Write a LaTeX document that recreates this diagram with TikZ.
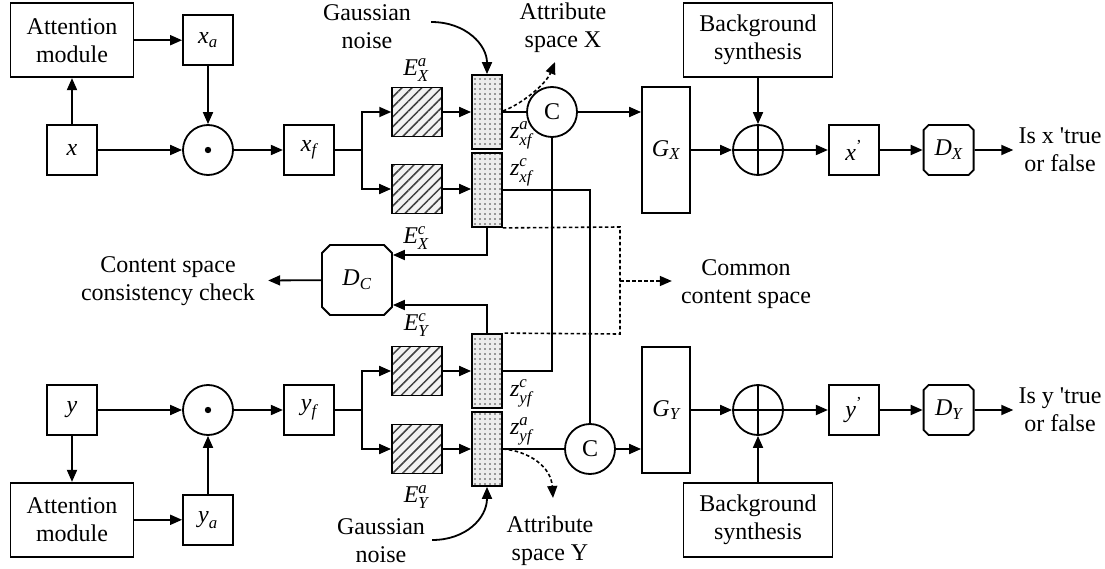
\documentclass[tikz,border=0pt]{standalone}
\usepackage{amsmath}
\usepackage{fontspec}
\setmainfont{Liberation Serif}
\usetikzlibrary{arrows.meta, positioning, calc, patterns.meta, shapes.misc}
\newcommand{\vi}[1]{\textit{#1}}
\tikzstyle{blk} = [draw, rectangle, minimum width=50pt, minimum height=50pt, inner sep=0pt, line width=1.8pt]
\tikzstyle{bigblk} = [draw, rectangle, minimum height=74pt, align=center, inner sep=0pt, line width=1.8pt]
\tikzstyle{genblk} = [draw, rectangle, minimum width=48pt, minimum height=126pt, inner sep=0pt, line width=1.8pt]
\tikzstyle{encblk} = [blk, minimum height=49pt, preaction={fill=gray!10}, pattern={Lines[angle=45,distance=7pt,line width=1.5pt]}, pattern color=black!75]
\tikzstyle{zbar} = [draw, rectangle, minimum width=30pt, minimum height=74pt, inner sep=0pt, line width=1.8pt, preaction={fill=gray!15}, pattern={Dots[distance=5pt,radius=0.8pt]}, pattern color=black!75]
\tikzstyle{opnode} = [draw, circle, minimum size=50pt, inner sep=0pt, line width=1.8pt]
\tikzstyle{odot} = [opnode, path picture={\fill (path picture bounding box.center) circle (3.2pt);}]
\tikzstyle{oplus} = [opnode, path picture={\draw[line width=1.8pt] (path picture bounding box.north) -- (path picture bounding box.south) (path picture bounding box.west) -- (path picture bounding box.east);}]
\tikzstyle{disc} = [draw, chamfered rectangle, chamfered rectangle xsep=2.5pt, chamfered rectangle ysep=2.5pt, minimum width=50pt, minimum height=50pt, inner sep=0pt, line width=1.8pt]
\tikzstyle{lbl} = [inner sep=0pt, align=center]
\tikzstyle{ln} = [line width=1.8pt]
\tikzstyle{arrw} = [line width=1.8pt, -{Triangle[length=12pt,width=10pt]}]
\tikzstyle{dotln} = [ln, line width=1.6pt, dash pattern=on 3.5pt off 2.5pt]
\tikzstyle{dotarrw} = [arrw, line width=1.6pt, dash pattern=on 3.5pt off 2.5pt]

\begin{document}
\begin{tikzpicture}[x=1pt, y=1pt, font=\fontsize{24}{28}\selectfont]
    \useasboundingbox (0,0) rectangle (1105,-569);

    % upper branch (x)
    \node (x) [blk] at (72,-150) {$\vi{x}$};
    \node (attx) [bigblk, minimum width=123pt, above=46pt of x] {Attention\\module};
    \node (xm) [odot] at (208,-150) {};
    \node (xa) [blk, above=58pt of xm] {$\vi{x}_{\vi{a}}$};
    \node (xf) [blk, right=49pt of xm] {$\vi{x}_{\vi{f}}$};
    \node (eXa) [encblk] at (417,-112) {};
    \node (eXc) [encblk] at (417,-189) {};
    \node (zXa) [zbar] at (487,-112) {};
    \node (zXc) [zbar] at (487,-190) {};
    \node (cX) [opnode] at (552,-112) {C};
    \node (gX) [genblk] at (666,-150) {$\vi{G}_{\vi{X}}$};
    \node (px) [oplus] at (758,-150) {};
    \node (bgx) [bigblk, minimum width=149pt, above=46pt of px] {Background\\synthesis};
    \node (xo) [blk, right=44pt of px] {$\vi{x}^{\text{'}}$};
    \node (dX) [disc, right=43pt of xo] {$\vi{D}_{\vi{X}}$};
    \node (outx) [lbl] at (1060,-150) {Is x \textquotesingle true\\or false};

    % lower branch (y)
    \node (y) [blk] at (72,-410) {$\vi{y}$};
    \node (atty) [bigblk, minimum width=123pt, below=46pt of y] {Attention\\module};
    \node (ym) [odot] at (208,-410) {};
    \node (ya) [blk, below=58pt of ym] {$\vi{y}_{\vi{a}}$};
    \node (yf) [blk, right=49pt of ym] {$\vi{y}_{\vi{f}}$};
    \node (eYc) [encblk] at (417,-371) {};
    \node (eYa) [encblk] at (417,-449) {};
    \node (zYc) [zbar] at (487,-371) {};
    \node (zYa) [zbar] at (487,-449) {};
    \node (cY) [opnode] at (590,-449) {C};
    \node (gY) [genblk] at (666,-410) {$\vi{G}_{\vi{Y}}$};
    \node (py) [oplus] at (758,-410) {};
    \node (bgy) [bigblk, minimum width=149pt, below=46pt of py] {Background\\synthesis};
    \node (yo) [blk, right=44pt of py] {$\vi{y}^{\text{'}}$};
    \node (dY) [disc, right=43pt of yo] {$\vi{D}_{\vi{Y}}$};
    \node (outy) [lbl] at (1060,-410) {Is y \textquotesingle true\\or false};

    % content discriminator and texts
    \node (dC) [disc, minimum width=70pt, minimum height=70pt, chamfered rectangle xsep=4pt, chamfered rectangle ysep=4pt] at (357,-280) {$\vi{D}_{\vi{C}}$};
    \node (cc) [lbl] at (168,-281) {Content space\\consistency check};
    \node (com) [lbl] at (746,-284) {Common\\content space};
    \node (gnx) [lbl] at (367,-27) {Gaussian\\noise};
    \node (gny) [lbl] at (381,-541) {Gaussian\\noise};
    \node (asx) [lbl] at (563,-28) {Attribute\\space X};
    \node (asy) [lbl] at (550,-541) {Attribute\\space Y};

    % labels
    \node (lXa) [lbl] at (416,-70) {$\vi{E}^{\vi{a}}_{\vi{X}}$};
    \node (lXc) [lbl] at (416,-238) {$\vi{E}^{\vi{c}}_{\vi{X}}$};
    \node (lYc) [lbl] at (416,-325) {$\vi{E}^{\vi{c}}_{\vi{Y}}$};
    \node (lYa) [lbl] at (416,-497) {$\vi{E}^{\vi{a}}_{\vi{Y}}$};
    \node (lzXa) [lbl] at (521,-135) {$\vi{z}^{\vi{a}}_{\vi{xf}}$};
    \node (lzXc) [lbl] at (521,-172) {$\vi{z}^{\vi{c}}_{\vi{xf}}$};
    \node (lzYc) [lbl] at (521,-393) {$\vi{z}^{\vi{c}}_{\vi{yf}}$};
    \node (lzYa) [lbl] at (521,-431) {$\vi{z}^{\vi{a}}_{\vi{yf}}$};

    \coordinate (bx) at (362,-150);
    \coordinate (by) at (362,-410);
    \coordinate (ax) at (555,-62);
    \coordinate (ay) at (553,-498);
    \coordinate (dt) at (620,-227);
    \coordinate (db) at (620,-334);
    \coordinate (dm) at (620,-281);

    % upper connectors
    \draw [arrw] (x.north) -- (x.north |- attx.south);
    \draw [arrw] (attx.east |- xa) -- (xa);
    \draw [arrw] (xa) -- (xm);
    \draw [arrw] (x) -- (xm);
    \draw [arrw] (xm) -- (xf);
    \draw [ln] (xf) -- (bx);
    \draw [arrw] (bx) |- (eXa);
    \draw [arrw] (bx) |- (eXc);
    \draw [arrw] (eXa) -- (zXa);
    \draw [arrw] (eXc.east) -- (eXc.east -| zXc.west);
    \draw [ln] (zXa) -- (cX);
    \draw [arrw] (cX) -- (cX -| gX.west);
    \draw [ln] (zXc.east) -| (cY.north);
    \draw [arrw] (gX) -- (px);
    \draw [arrw] (bgx) -- (px);
    \draw [arrw] (px) -- (xo);
    \draw [arrw] (xo) -- (dX);
    \draw [arrw, shorten >=5pt] (dX) -- (outx);
    \draw [arrw] ([xshift=20pt,yshift=5pt]gnx.east) .. controls (466,-22) and (487,-45) .. (zXa.north);
    \draw [dotarrw] ([yshift=1pt]zXa.east) .. controls (522,-104) and (546,-84) .. (ax);

    % lower connectors
    \draw [arrw] (y.south) -- (y.south |- atty.north);
    \draw [arrw] (atty.east |- ya) -- (ya);
    \draw [arrw] (ya) -- (ym);
    \draw [arrw] (y) -- (ym);
    \draw [arrw] (ym) -- (yf);
    \draw [ln] (yf) -- (by);
    \draw [arrw] (by) |- (eYc);
    \draw [arrw] (by) |- (eYa);
    \draw [arrw] (eYc) -- (zYc);
    \draw [arrw] (eYa) -- (zYa);
    \draw [ln] (zYa) -- (cY);
    \draw [arrw] (cY) -- (cY -| gY.west);
    \draw [ln] (zYc.east) -| (cX.south);
    \draw [arrw] (gY) -- (py);
    \draw [arrw] (bgy) -- (py);
    \draw [arrw] (py) -- (yo);
    \draw [arrw] (yo) -- (dY);
    \draw [arrw, shorten >=5pt] (dY) -- (outy);
    \draw [arrw] ([xshift=7pt,yshift=1pt]gny.east) .. controls (466,-540) and (487,-518) .. (zYa.south);
    \draw [dotarrw] (zYa.east) .. controls (528,-451) and (551,-466) .. (ay);

    % content space
    \draw [arrw] (zXc.south) |- ([yshift=25pt]dC.east);
    \draw [arrw] (zYc.north) |- ([yshift=-25pt]dC.east);
    \draw [arrw, shorten >=13pt] (dC) -- (cc);
    \draw [dotln] (zXc.south east) -- (dt) -- (db) -- (zYc.north east);
    \draw [dotarrw] (dm) -- ([xshift=-9pt]dm -| com.west);
\end{tikzpicture}
\end{document}
